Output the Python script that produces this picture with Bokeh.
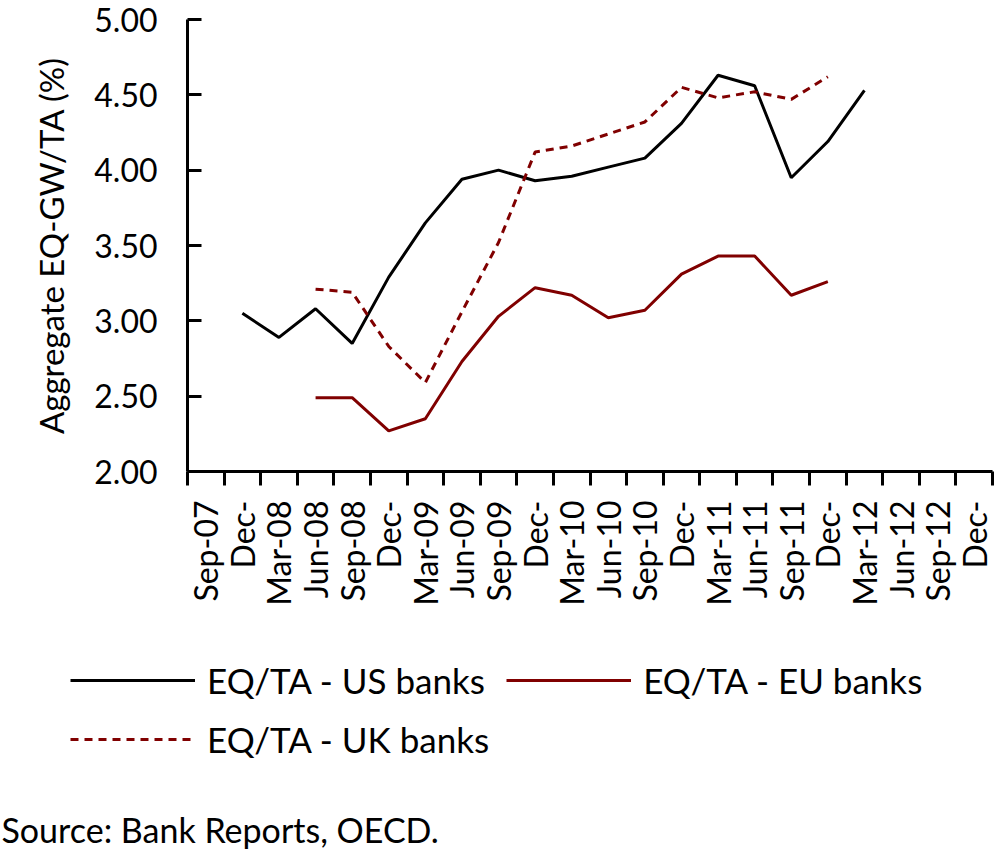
import math
import numpy as np
from bokeh.plotting import figure
from bokeh.layouts import column
from bokeh.models import Range1d, FixedTicker, Legend, LegendItem, Label, NumeralTickFormatter
from bokeh.embed import file_html
from bokeh.resources import INLINE

# ---- data -------------------------------------------------------------
categories = ["Sep-07", "Dec-07", "Mar-08", "Jun-08", "Sep-08", "Dec-08",
              "Mar-09", "Jun-09", "Sep-09", "Dec-09", "Mar-10", "Jun-10",
              "Sep-10", "Dec-10", "Mar-11", "Jun-11", "Sep-11", "Dec-11",
              "Mar-12", "Jun-12", "Sep-12", "Dec-12"]
tick_labels = ["Sep-07", "Dec-", "Mar-08", "Jun-08", "Sep-08", "Dec-",
               "Mar-09", "Jun-09", "Sep-09", "Dec-", "Mar-10", "Jun-10",
               "Sep-10", "Dec-", "Mar-11", "Jun-11", "Sep-11", "Dec-",
               "Mar-12", "Jun-12", "Sep-12", "Dec-"]
us_banks = [None, 3.05, 2.89, 3.08, 2.85, 3.29, 3.65, 3.94, 4.00, 3.93, 3.96,
            4.02, 4.08, 4.31, 4.63, 4.56, 3.95, 4.19, 4.53, None, None, None]
eu_banks = [None, None, None, 2.49, 2.49, 2.27, 2.35, 2.73, 3.03, 3.22, 3.17,
            3.02, 3.07, 3.31, 3.43, 3.43, 3.17, 3.26, None, None, None, None]
uk_banks = [None, None, None, 3.21, 3.19, 2.83, 2.59, 3.06, 3.52, 4.12, 4.16,
            4.24, 4.32, 4.55, 4.48, 4.52, 4.47, 4.62, None, None, None, None]
y_ticks = [2.0, 2.5, 3.0, 3.5, 4.0, 4.5, 5.0]
series_names = ["EQ/TA - US banks", "EQ/TA - EU banks", "EQ/TA - UK banks"]
y_title = "Aggregate EQ-GW/TA (%)"
source_text = "Source: Bank Reports, OECD."

# ---- styles -----------------------------------------------------------
FONT = "Lato"
FS = "32px"
MAROON = "#800000"
styles = [dict(line_color="black", line_width=3),
          dict(line_color=MAROON, line_width=3),
          dict(line_color=MAROON, line_width=3, line_dash="8 6")]
series = [us_banks, eu_banks, uk_banks]

n = len(categories)
x = np.arange(n)


def no_frame_align(fig):
    try:
        fig.frame_align = False
    except Exception:
        pass


# ---- main chart -------------------------------------------------------
p = figure(width=994, height=620, output_backend="svg", toolbar_location=None,
           x_range=Range1d(-0.5, n - 0.5), y_range=Range1d(y_ticks[0], y_ticks[-1]),
           min_border_left=187, min_border_right=2, min_border_top=19,
           min_border_bottom=149)
no_frame_align(p)
p.xgrid.visible = False
p.ygrid.visible = False
p.outline_line_color = None
p.background_fill_color = "white"
p.border_fill_color = "white"

for vals, st in zip(series, styles):
    p.line(x, np.array(vals, dtype=float), **st)

# y axis
ya = p.yaxis[0]
ya.ticker = FixedTicker(ticks=y_ticks, minor_ticks=[])
ya.formatter = NumeralTickFormatter(format="0.00")
ya.axis_line_width = 3
ya.axis_line_color = "black"
ya.major_tick_line_width = 3
ya.major_tick_line_color = "black"
ya.major_tick_in = 14
ya.major_tick_out = 0
ya.minor_tick_line_color = None
ya.major_label_text_font = FONT
ya.major_label_text_font_size = FS
ya.major_label_text_color = "black"
ya.major_label_standoff = 30
ya.axis_label = y_title
ya.axis_label_text_font = FONT
ya.axis_label_text_font_size = "33px"
ya.axis_label_text_font_style = "normal"
ya.axis_label_text_color = "black"
ya.axis_label_standoff = 20

# x axis
xa = p.xaxis[0]
xa.ticker = FixedTicker(ticks=list(range(n)), minor_ticks=[i - 0.5 for i in range(n + 1)])
xa.major_label_overrides = {i: lbl for i, lbl in enumerate(tick_labels)}
xa.axis_line_width = 3
xa.axis_line_color = "black"
xa.major_tick_in = 0
xa.major_tick_out = 0
xa.major_tick_line_color = None
xa.minor_tick_in = 0
xa.minor_tick_out = 14
xa.minor_tick_line_width = 3
xa.minor_tick_line_color = "black"
xa.major_label_orientation = math.pi / 2
xa.major_label_text_font = FONT
xa.major_label_text_font_size = FS
xa.major_label_text_color = "black"
xa.major_label_standoff = 15

# ---- legend + source panel -------------------------------------------
H2 = 237
# ranges placed away from the data so the legend proxies stay out of view
q = figure(width=994, height=H2, output_backend="svg", toolbar_location=None,
           x_range=Range1d(1000, 2000), y_range=Range1d(1000, 2000),
           min_border_left=0, min_border_right=0, min_border_top=0,
           min_border_bottom=0, x_axis_location=None, y_axis_location=None)
no_frame_align(q)
q.xgrid.visible = False
q.ygrid.visible = False
q.outline_line_color = None
q.background_fill_color = "white"
q.border_fill_color = "white"

proxies = [q.line(x, np.array(vals, dtype=float), **st) for vals, st in zip(series, styles)]
legend = Legend(items=[LegendItem(label=nm, renderers=[r])
                       for nm, r in zip(series_names, proxies)],
                location=(70, 97), orientation="horizontal", ncols=2,
                glyph_width=125, glyph_height=42, label_height=42,
                label_standoff=12, spacing=17, padding=0, margin=0,
                border_line_color=None, background_fill_alpha=0,
                label_text_font=FONT, label_text_font_size="35px",
                label_text_color="black")
q.add_layout(legend)

src = Label(x=1, y=28, x_units="screen", y_units="screen", text=source_text,
            text_font=FONT, text_font_size="34px", text_baseline="middle",
            text_color="black")
q.add_layout(src)

layout = column(p, q, spacing=0)
open("out.html", "w").write(file_html(layout, INLINE))
